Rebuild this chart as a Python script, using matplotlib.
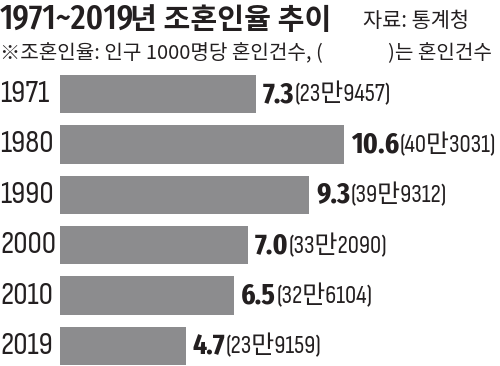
import matplotlib
matplotlib.use('Agg')
import matplotlib.pyplot as plt
from matplotlib.offsetbox import TextArea, HPacker, AnnotationBbox

# data
years = ['1971', '1980', '1990', '2000', '2010', '2019']
rates = [7.3, 10.6, 9.3, 7.0, 6.5, 4.7]
counts = ['23만9457', '40만3031', '39만9312', '33만2090', '32만6104', '23만9159']

# condensed latin fonts first, Korean fallback after
COND = ['Sofia Sans Condensed', 'Roboto Condensed', 'Noto Sans CJK KR', 'DejaVu Sans']
BOLD = ['Fira Sans Extra Condensed', 'Roboto Condensed', 'Noto Sans CJK KR', 'DejaVu Sans']
KR = ['Noto Sans CJK KR', 'DejaVu Sans']
bar_color = '#8c8c8e'
ink = '#231f20'

fig = plt.figure(figsize=(5, 3.66), dpi=100)
fig.patch.set_facecolor('white')

# bars: value 0 at x=60px, ~26.8px per unit
ax = fig.add_axes([0.12, -0.014, 0.88, 0.826])
ypos = list(range(len(years)))
ax.barh(ypos, rates, height=0.76, color=bar_color, edgecolor='none')
ax.set_xlim(0, 16.42)
ax.set_ylim(5.5, -0.5)
ax.axis('off')

for y, yr in zip(ypos, years):
    ax.text(-60 / 26.8, y, yr, ha='left', va='center', fontsize=23,
            family=COND, color=ink)

for y, r, c in zip(ypos, rates, counts):
    t1 = TextArea(f'{r:.1f}', textprops=dict(fontsize=21.5, family=BOLD, weight='bold', color=ink))
    t2 = TextArea(f'({c})', textprops=dict(fontsize=18, family=COND, color=ink))
    box = HPacker(children=[t1, t2], align='baseline', pad=0, sep=0.5)
    ab = AnnotationBbox(box, (r, y), xybox=(5, 0), xycoords='data', boxcoords='offset points',
                        box_alignment=(0, 0.5), frameon=False, pad=0)
    ax.add_artist(ab)

# titles
fig.text(0.0, 1 - 29 / 366, '1971~2019', fontsize=25.5, family=BOLD, weight='medium',
         color=ink, va='baseline', ha='left')
fig.text(130 / 500, 1 - 29 / 366, '년 조혼인율 추이', fontsize=21, family=KR, weight='bold',
         color=ink, va='baseline', ha='left')
fig.text(363 / 500, 1 - 27 / 366, '자료: 통계청', fontsize=15, family=KR, color=ink,
         va='baseline', ha='left')
fig.text(0.0, 1 - 59 / 366, '※조혼인율: 인구 1000명당 혼인건수, (', fontsize=14.5, family=KR,
         color=ink, va='baseline', ha='left')
fig.text(492 / 500, 1 - 59 / 366, ')는 혼인건수', fontsize=14.5, family=KR,
         color=ink, va='baseline', ha='right')

fig.savefig('out.png', dpi=100)
